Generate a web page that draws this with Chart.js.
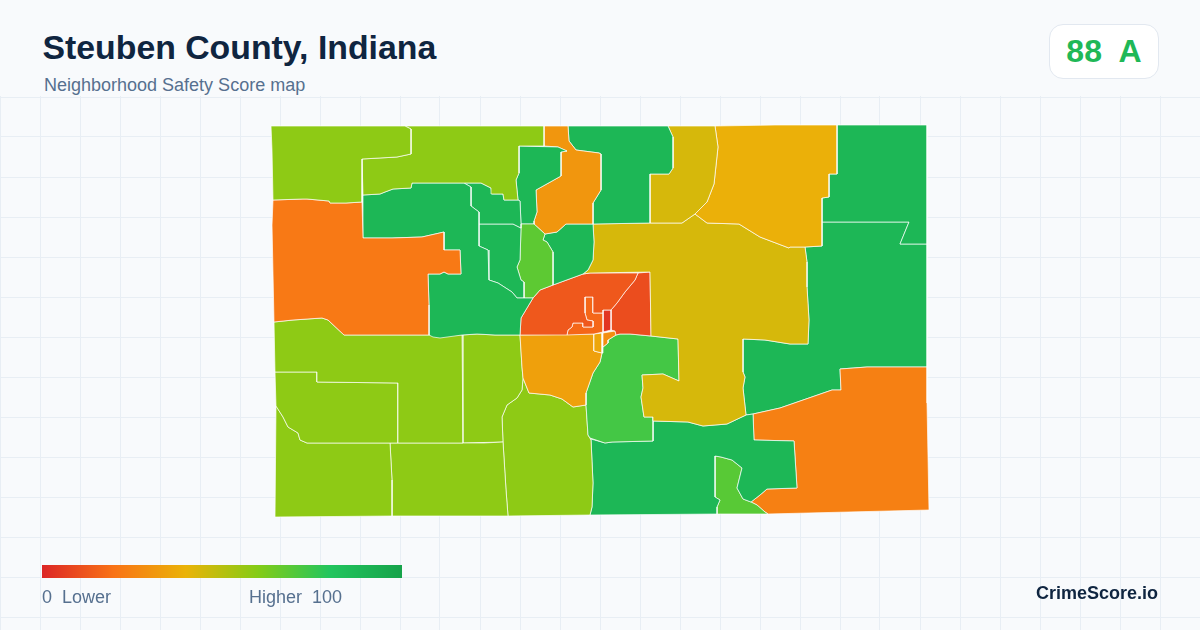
<!DOCTYPE html>
<html lang="en">
<head>
<meta charset="utf-8">
<title>Steuben County, Indiana</title>
<script src="https://cdn.jsdelivr.net/npm/chart.js@4/dist/chart.umd.min.js"></script>
<style>
  html, body { margin: 0; padding: 0; }
  body { width: 1200px; height: 630px; background: #f8fafc; position: relative; overflow: hidden;
         font-family: "Liberation Sans", Arial, sans-serif; }
  #map { position: absolute; left: 0; top: 96px; }
  .title { position: absolute; left: 42.5px; top: 27px; font-size: 33.8px; line-height: 40px; font-weight: 700; color: #0f2540; }
  .sub { position: absolute; left: 44px; top: 75px; font-size: 18px; line-height: 20px; color: #56708f; }
  .badge { position: absolute; left: 1049px; top: 24px; width: 108px; height: 53px; box-sizing: content-box;
           background: #fff; border: 1px solid #e2e8f0; border-radius: 14px; text-align: center;
           font-size: 32px; line-height: 53px; font-weight: 700; color: #1fb857; white-space: pre; }
  .bar { position: absolute; left: 42px; top: 565px; width: 360px; height: 13px;
         background: linear-gradient(90deg, #dc2626, #f97316, #eab308, #84cc16, #22c55e, #16a34a); }
  .lo, .hi { position: absolute; top: 587px; font-size: 18px; line-height: 20px; color: #56708f; white-space: pre; }
  .lo { left: 42px; }
  .hi { left: 249px; }
  .brand { position: absolute; left: 1036px; top: 582px; font-size: 18px; line-height: 22px; font-weight: 700; color: #0f2540; }
</style>
</head>
<body>
<canvas id="map" width="1200" height="534"></canvas>
<div class="title">Steuben County, Indiana</div>
<div class="sub">Neighborhood Safety Score map</div>
<div class="badge">88  A</div>
<div class="bar"></div>
<div class="lo">0  Lower</div>
<div class="hi">Higher  100</div>
<div class="brand">CrimeScore.io</div>
<script>
const scores = [58, 58, 22, 88, 88, 88, 68, 88, 31, 88, 88, 44, 39, 44, 13, 17, 4, 10, 28, 36, 34, 73,
                58, 58, 58, 58, 58, 58, 88, 69, 24, 88, 88];

// neighborhood outlines, [x, y] on the map
const outlines = [
  [[271,126],[405,126],[411,129],[411,154],[397,157],[362,159],[362,202],[346,203],[330,203],[329,201],[307,199],[303,199],[273,200],[272,150]],
  [[405,126],[544,126],[544,146],[519,146],[519,173],[516,180],[518,200],[504,200],[503,194],[492,194],[491,188],[481,183],[464,183],[436,183],[412,183],[411,188],[393,189],[385,192],[380,194],[363,195],[362,159],[397,157],[411,154],[411,129]],
  [[273,200],[303,199],[307,199],[329,201],[330,203],[346,203],[362,202],[363,238],[392,238],[422,237],[444,232],[444,250],[460,250],[461,274],[448,274],[444,272],[440,274],[428,274],[429,305],[429,335],[344,335],[328,320],[322,318],[293,320],[274,322],[272,225]],
  [[363,195],[380,194],[385,192],[393,189],[411,188],[412,183],[436,183],[464,183],[471,187],[471,206],[479,212],[479,246],[488,250],[489,280],[498,283],[512,292],[517,298],[533,298],[521,318],[520,335],[495,335],[477,334],[462,335],[440,338],[433,337],[429,335],[429,305],[428,274],[440,274],[444,272],[448,274],[461,274],[460,250],[444,250],[444,232],[422,237],[392,238],[363,238]],
  [[464,183],[481,183],[491,188],[492,194],[503,194],[504,200],[518,200],[520,201],[521,224],[521,228],[513,224],[479,224],[479,212],[471,206],[471,187]],
  [[479,224],[513,224],[521,228],[520,260],[517,267],[521,280],[524,282],[524,298],[517,298],[512,292],[498,283],[489,280],[488,250],[479,246]],
  [[521,224],[534,224],[545,234],[543,240],[547,242],[553,252],[553,285],[540,290],[533,298],[524,298],[524,282],[521,280],[517,267],[520,260],[521,228]],
  [[519,146],[558,147],[567,151],[561,152],[561,176],[536,190],[537,212],[534,221],[534,224],[521,224],[520,201],[518,200],[516,180],[519,173]],
  [[544,126],[568,126],[569,141],[576,150],[599,153],[601,154],[601,190],[593,203],[593,224],[566,224],[557,232],[545,234],[534,224],[534,221],[537,212],[536,190],[561,176],[561,152],[567,151],[558,147],[544,146]],
  [[545,234],[557,232],[566,224],[593,224],[594,242],[593,260],[588,270],[583,274],[553,285],[553,252],[547,242],[543,240]],
  [[568,126],[668,126],[673,137],[673,168],[669,174],[650,174],[650,223],[593,224],[593,203],[601,190],[601,154],[599,153],[576,150],[569,141]],
  [[668,126],[715,126],[718,147],[714,184],[707,202],[695,214],[682,223],[650,223],[650,174],[669,174],[673,168],[673,137]],
  [[715,126],[775,125],[837,125],[837,174],[829,174],[829,197],[822,198],[822,246],[805,247],[790,247],[789,248],[760,237],[739,224],[707,223],[695,214],[707,202],[714,184],[718,147]],
  [[593,224],[650,223],[682,223],[695,214],[707,223],[739,224],[760,237],[789,248],[790,247],[805,247],[807,262],[807,287],[809,320],[808,344],[790,344],[765,340],[743,339],[743,372],[745,377],[743,388],[746,415],[727,424],[703,426],[688,422],[653,421],[653,417],[644,417],[641,397],[643,388],[642,375],[663,374],[679,381],[678,339],[660,337],[651,336],[650,272],[590,273],[583,274],[588,270],[593,260],[594,242]],
  [[533,298],[540,290],[553,285],[583,274],[590,273],[638,273],[635,280],[625,292],[617,303],[611,310],[603,310],[603,313],[593,313],[593,297],[585,297],[585,313],[587,320],[593,321],[593,327],[583,327],[583,323],[573,323],[572,327],[568,330],[567,335],[520,335],[521,318]],
  [[585,297],[593,297],[593,313],[603,313],[603,332],[594,334],[567,335],[568,330],[572,327],[573,323],[583,323],[583,327],[593,327],[593,321],[587,320],[585,313]],
  [[603,310],[611,310],[611,330],[603,332]],
  [[638,273],[650,272],[651,336],[630,334],[620,334],[616,335],[615,331],[611,330],[611,310],[617,303],[625,292],[635,280]],
  [[603,333],[615,331],[616,335],[608,340],[608,343],[603,347]],
  [[594,334],[602,333],[602,353],[594,351]],
  [[520,335],[594,334],[594,351],[602,353],[600,362],[593,373],[586,393],[586,405],[573,407],[562,399],[550,395],[529,393],[523,378],[522,367]],
  [[603,347],[608,343],[608,340],[616,335],[620,334],[630,334],[651,336],[660,337],[678,339],[679,381],[663,374],[642,375],[643,388],[641,397],[644,417],[653,417],[653,441],[612,442],[605,443],[590,438],[588,435],[586,405],[586,393],[593,373],[600,362],[602,353]],
  [[274,322],[293,320],[322,318],[328,320],[344,335],[429,335],[462,335],[463,443],[398,443],[398,383],[317,382],[317,372],[275,372]],
  [[275,372],[317,372],[317,382],[398,383],[398,443],[307,443],[300,440],[298,433],[288,427],[283,417],[276,406]],
  [[276,406],[283,417],[288,427],[298,433],[300,440],[307,443],[390,443],[392,480],[392,516],[275,517]],
  [[390,443],[463,443],[484,443],[503,442],[506,490],[508,516],[392,516],[392,480]],
  [[462,335],[477,334],[495,335],[520,335],[522,367],[523,378],[522,390],[517,398],[507,405],[502,417],[503,442],[463,443]],
  [[523,378],[529,393],[550,395],[562,399],[573,407],[586,405],[588,435],[591,440],[593,483],[592,507],[590,515],[508,516],[506,490],[503,442],[502,417],[507,405],[517,398],[522,390]],
  [[591,439],[605,443],[612,442],[653,441],[653,421],[688,422],[703,426],[727,424],[746,415],[753,414],[754,440],[794,441],[797,488],[767,489],[760,495],[751,502],[743,499],[737,488],[742,468],[732,460],[721,457],[715,456],[715,497],[720,500],[717,507],[717,514],[590,515],[592,507],[593,483]],
  [[715,456],[721,457],[732,460],[742,468],[737,488],[743,499],[751,502],[757,505],[765,512],[768,514],[717,514],[717,507],[720,500],[715,497]],
  [[753,414],[780,408],[832,390],[841,390],[840,369],[867,367],[927,367],[927,403],[929,510],[768,514],[765,512],[757,505],[751,502],[760,495],[767,489],[797,488],[794,441],[754,440]],
  [[837,125],[927,125],[927,244],[900,244],[909,222],[867,222],[822,222],[822,198],[829,197],[829,174],[837,174]],
  [[822,222],[867,222],[909,222],[900,244],[927,244],[927,367],[867,367],[840,369],[841,390],[832,390],[780,408],[753,414],[746,415],[743,388],[745,377],[743,372],[743,339],[765,340],[790,344],[808,344],[809,320],[807,287],[807,262],[805,247],[822,246]]
];

// background grid rows, the columns come from stepSize
const gridRows = [97, 137, 177, 217, 257, 297, 337, 377, 417, 457, 497, 537, 577, 617];

// legend ramp, one colour per 20 points
const ramp = [[220, 38, 38], [249, 115, 22], [234, 179, 8], [132, 204, 22], [34, 197, 94], [22, 163, 74]];

const scoreColor = (s) => {
  const i = Math.min(Math.floor(s / 20), 4);
  const t = s / 20 - i;
  const c = ramp[i].map((v, k) => Math.round(v + (ramp[i + 1][k] - v) * t));
  return `rgb(${c[0]},${c[1]},${c[2]})`;
};

const datasets = outlines.map((pts, i) => ({
  data: pts.concat([pts[0]]).map(p => ({ x: p[0], y: p[1] })),
  showLine: true,
  fill: 'shape',
  tension: 0,
  backgroundColor: scoreColor(scores[i]),
  borderColor: 'rgba(255,255,255,0.85)',
  borderWidth: 0.8,
  pointRadius: 0
}));

new Chart(document.getElementById('map'), {
  type: 'scatter',
  data: { datasets },
  options: {
    responsive: false,
    animation: false,
    layout: { padding: 0 },
    plugins: { legend: { display: false }, tooltip: { enabled: false } },
    scales: {
      x: {
        type: 'linear', min: 0, max: 1200,
        ticks: { display: false, stepSize: 40, autoSkip: false },
        grid: { color: '#e8eef4', drawTicks: false },
        border: { display: false }
      },
      y: {
        type: 'linear', min: 96, max: 630, reverse: true,
        afterBuildTicks: (axis) => { axis.ticks = gridRows.map(v => ({ value: v })); },
        ticks: { display: false, autoSkip: false },
        grid: { color: '#e8eef4', drawTicks: false },
        border: { display: false }
      }
    }
  }
});
</script>
</body>
</html>
